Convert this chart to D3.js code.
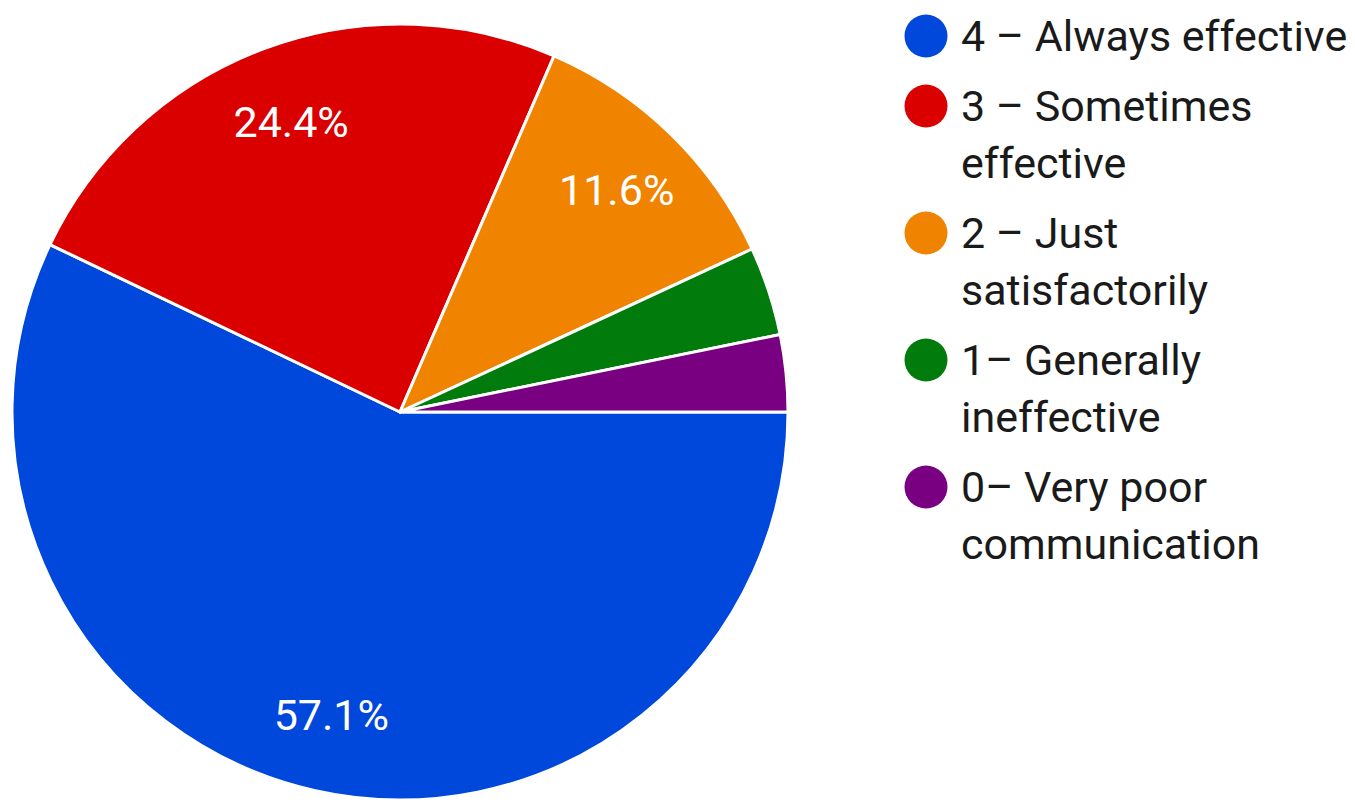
<!DOCTYPE html>
<html>
<head>
<meta charset="utf-8">
<script src="https://cdn.jsdelivr.net/npm/d3@7"></script>
<style>
  html, body { margin: 0; padding: 0; background: #fff; }
  svg { display: block; }
  text { font-family: Roboto, "Noto Sans", sans-serif; }
</style>
</head>
<body>
<svg id="chart" width="1355" height="804"></svg>
<script>
const categories = [
  "4 – Always effective",
  "3 – Sometimes effective",
  "2 – Just satisfactorily",
  "1– Generally ineffective",
  "0– Very poor communication"
];
const legendLines = [
  ["4 – Always effective"],
  ["3 – Sometimes", "effective"],
  ["2 – Just", "satisfactorily"],
  ["1– Generally", "ineffective"],
  ["0– Very poor", "communication"]
];
const values = [57.1, 24.4, 11.6, 3.7, 3.2];
const colors = ["#0047db", "#db0000", "#f08400", "#007b0c", "#790080"];

const svg = d3.select("#chart");
const cx = 400, cy = 412, r = 388;

const data = categories.map((c, i) => ({ cat: c, value: values[i], color: colors[i], lines: legendLines[i] }));

const pie = d3.pie().sort(null).value(d => d.value)
  .startAngle(Math.PI / 2).endAngle(Math.PI / 2 + 2 * Math.PI);
const arcs = pie(data);
const arc = d3.arc().innerRadius(0).outerRadius(r);
const labelArc = d3.arc().innerRadius(r * 0.8).outerRadius(r * 0.8);

const g = svg.append("g").attr("transform", `translate(${cx},${cy})`);
g.selectAll("path").data(arcs).join("path")
  .attr("d", arc)
  .attr("fill", d => d.data.color)
  .attr("stroke", "#fff")
  .attr("stroke-width", 3)
  .attr("stroke-linejoin", "round");

const total = d3.sum(values);
g.selectAll("text.pct").data(arcs.filter(d => d.data.value / total > 0.05)).join("text")
  .attr("class", "pct")
  .attr("transform", d => `translate(${labelArc.centroid(d)})`)
  .attr("text-anchor", "middle")
  .attr("dy", "0.36em")
  .attr("fill", "#fff")
  .attr("font-size", 43)
  .text(d => d3.format(".1f")(d.data.value / total * 100) + "%");

// Legend
const lx = 926, textX = 961, firstBase = 51, lineH = 57, itemGap = 70, fs = 43;
let y = firstBase;
const leg = svg.append("g");
data.forEach(d => {
  leg.append("circle").attr("cx", lx).attr("cy", y - 15).attr("r", 21.5).attr("fill", d.color);
  const t = leg.append("text").attr("x", textX).attr("y", y)
    .attr("font-size", fs).attr("fill", "#1a1a1a");
  d.lines.forEach((ln, i) => {
    t.append("tspan").attr("x", textX).attr("dy", i === 0 ? 0 : lineH).text(ln);
  });
  y += itemGap + (d.lines.length - 1) * lineH;
});
</script>
</body>
</html>
